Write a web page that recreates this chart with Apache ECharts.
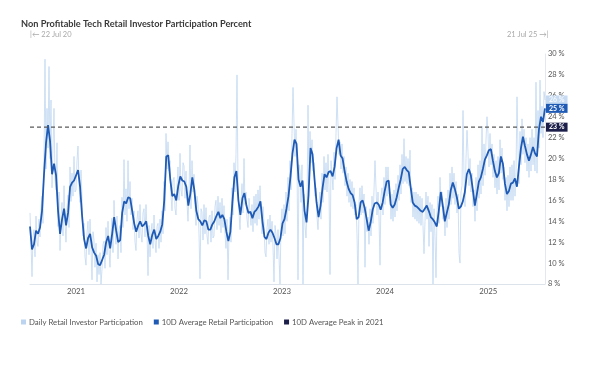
<!DOCTYPE html>
<html><head><meta charset="utf-8">
<script src="https://cdn.jsdelivr.net/npm/echarts@6/dist/echarts.min.js"></script>
<style>html,body{margin:0;padding:0;background:#fff}#c{width:602px;height:392px}</style>
</head><body><div id="c"></div>
<script>
// ---- data ----
const startDate = '22 Jul 20';
const endDate = '21 Jul 25';
const yearLabels = ['2021','2022','2023','2024','2025'];
const peak2021 = 23;
// 10-day average, roughly weekly samples from Jul 2020 to Jul 2025
const avgValues = [
13.5,11.3,11.8,13.1,12.8,13.4,15.0,18.5,21.5,23.2,
21.7,18.5,19.5,18.4,15.0,12.8,14.2,15.2,13.6,14.8,
17.3,17.7,17.9,18.4,18.9,17.3,14.5,12.3,11.4,12.4,
12.8,11.5,11.0,10.7,9.9,9.8,10.3,10.8,12.0,12.6,
11.4,12.8,14.4,13.1,12.0,12.2,14.8,15.9,15.7,16.3,
16.2,15.0,13.8,13.0,13.6,14.0,13.5,13.7,14.0,12.6,
11.8,12.7,13.2,12.3,12.6,13.0,13.7,16.0,20.2,20.3,
18.0,16.4,16.6,16.0,17.4,18.3,17.9,17.8,17.3,15.5,
16.6,18.2,17.0,15.0,14.2,14.0,13.6,14.1,14.0,13.2,
13.2,13.7,14.0,14.5,14.9,14.3,14.6,14.2,13.0,12.1,
13.0,15.8,18.2,18.8,16.0,14.6,16.2,16.7,15.5,14.8,
14.9,14.3,14.9,15.1,15.4,15.9,14.0,12.5,12.3,12.9,
13.2,12.9,12.4,11.8,11.8,12.4,13.8,14.2,15.2,16.4,
18.3,20.5,21.8,21.4,18.0,17.3,17.9,15.0,13.9,16.5,
21.0,20.4,18.0,15.8,14.4,15.5,17.2,18.5,18.2,18.7,
18.8,18.3,19.2,21.0,21.8,20.3,20.0,18.8,17.8,17.1,
16.7,16.5,15.8,14.2,14.4,15.8,16.0,15.3,14.2,13.1,
13.9,15.1,15.7,15.8,15.6,15.1,15.8,16.9,17.8,17.9,
15.6,15.3,15.6,16.3,17.2,18.0,19.0,19.2,18.9,18.7,
17.2,15.8,15.5,15.4,15.2,15.0,14.9,15.2,15.5,15.0,
14.4,14.2,13.9,13.5,15.0,16.8,15.5,14.0,14.8,15.6,
17.0,17.7,17.1,16.3,15.2,15.4,15.9,16.8,18.5,19.0,
18.4,17.0,15.5,16.6,17.8,18.2,19.0,19.9,20.3,20.8,
20.9,19.8,18.8,18.2,18.6,20.2,19.5,17.6,16.6,16.9,
17.6,17.7,18.1,17.3,19.2,21.0,22.1,21.2,20.4,19.8,
20.4,21.1,20.5,20.2,22.8,24.0,23.5,24.8
];
// daily participation, sampled about twice a week
const dailyValues = [
14.8,12.0,8.7,12.5,13.2,10.6,14.5,12.0,11.6,14.2,12.5,15.3,16.4,13.8,20.1,29.5,19.0,24.8,21.0,28.8,
20.0,25.6,17.2,21.0,24.8,18.0,17.0,21.5,13.5,16.8,11.2,14.4,15.8,12.6,17.4,13.9,12.0,15.2,16.5,13.4,
19.2,15.9,18.6,16.4,20.2,16.8,17.0,19.8,21.2,17.6,15.8,18.9,16.2,12.6,13.8,10.6,9.8,12.9,14.0,10.8,
14.2,11.5,8.4,13.0,12.2,9.6,11.9,8.2,10.8,8.9,11.0,8.0,9.4,11.8,12.1,9.5,13.4,10.8,14.0,11.3,
9.6,12.7,14.3,11.0,16.0,13.2,11.8,14.5,10.4,13.2,13.6,11.0,16.3,13.4,19.9,14.6,17.1,14.0,19.8,15.2,
17.8,14.6,16.2,13.2,15.0,12.0,11.2,14.2,15.0,12.4,15.6,12.8,12.0,14.8,15.2,12.5,15.6,13.0,8.8,13.6,
10.6,13.0,13.8,11.4,14.6,12.2,11.0,13.5,13.8,11.4,14.2,12.0,15.0,12.8,17.8,15.0,22.4,19.0,21.6,18.8,
19.8,16.5,15.0,17.9,18.2,15.2,14.6,17.4,19.2,16.0,20.5,17.0,16.4,19.6,19.3,16.2,18.8,15.8,14.0,16.8,
21.3,15.2,19.8,16.8,18.5,15.6,13.6,16.4,15.6,12.8,8.5,15.2,14.9,12.2,15.6,12.8,15.3,12.6,11.8,14.4,
14.6,12.0,15.0,12.4,12.6,15.4,16.0,13.2,16.4,13.6,15.8,12.9,16.2,13.4,15.5,12.8,11.4,14.2,8.4,12.8,
14.4,12.0,17.2,14.6,19.6,16.8,20.4,28.0,17.6,14.8,13.2,15.9,17.6,14.8,20.0,15.6,16.8,14.2,13.4,16.2,
16.2,13.6,15.6,13.0,16.4,13.8,16.6,13.6,17.0,14.2,17.4,14.8,12.8,15.4,13.8,11.0,10.6,13.4,14.2,11.8,
14.6,12.0,14.0,11.6,8.2,13.6,12.8,10.4,13.2,10.6,8.0,13.6,15.2,12.6,15.6,12.8,16.8,14.0,18.2,15.0,
19.8,17.0,22.4,26.8,23.4,20.2,22.8,19.8,8.4,19.4,18.8,15.8,19.4,8.0,16.6,13.6,12.4,15.2,25.1,17.6,
22.6,19.6,21.8,18.8,19.6,16.4,17.2,14.4,13.2,15.8,16.8,14.2,18.6,15.8,20.2,17.0,19.6,16.8,20.4,17.2,
8.9,19.8,19.8,17.0,20.6,18.0,22.4,25.9,23.2,20.4,21.6,19.0,21.4,18.6,20.2,17.4,19.2,16.4,18.6,15.8,
18.0,15.4,17.8,15.2,17.2,14.6,15.6,12.8,8.0,15.8,17.2,14.6,17.4,14.8,16.6,9.6,15.4,13.0,14.4,11.8,
15.2,12.6,16.4,13.8,17.0,19.8,17.2,14.6,16.8,14.4,9.8,16.4,17.2,14.6,18.2,15.6,19.2,16.4,19.2,16.6,
16.8,14.2,16.6,14.0,17.0,14.4,17.6,15.0,18.4,16.0,19.4,16.6,20.4,17.6,21.9,17.8,20.2,17.6,20.0,17.4,
20.8,15.8,17.2,14.4,16.8,14.2,16.8,14.0,16.6,13.8,16.4,13.6,16.2,13.6,10.9,14.0,16.8,14.2,16.4,11.6,
15.8,13.0,15.6,8.0,15.2,12.6,8.6,14.8,16.4,13.8,18.2,15.4,16.8,14.2,15.4,12.6,16.2,13.4,17.0,14.2,
18.6,15.6,19.2,16.2,18.6,15.6,17.8,14.8,16.6,10.9,10.0,16.8,17.4,24.6,18.4,15.4,20.0,22.7,20.6,17.4,
20.0,16.8,18.6,15.4,17.0,14.0,18.2,15.0,19.4,16.2,19.8,16.6,23.1,17.4,21.4,18.4,21.8,24.0,22.4,19.2,
22.4,19.4,21.4,18.2,20.4,17.2,19.8,16.6,20.2,17.0,21.8,18.6,21.0,18.0,19.2,16.0,18.2,15.0,18.4,15.4,
19.2,16.0,19.4,16.0,19.8,16.4,18.8,25.9,20.8,17.6,22.6,19.4,23.8,20.4,22.8,19.6,22.0,18.8,21.4,18.2,
22.0,18.8,22.8,19.4,22.0,18.8,27.3,18.6,24.6,21.0,27.5,22.4,25.0,22.0,26.4,25.6
];

// ---- chart ----
const t0 = Date.UTC(2020,6,22), t1 = Date.UTC(2025,6,21);
const spread = vals => vals.map((v,i)=>[t0 + i*(t1-t0)/(vals.length-1), v]);
const yearTicks = yearLabels.map(y => Date.UTC(+y,0,1));
const FONT = 'Lato';
const chart = echarts.init(document.getElementById('c'), null, {renderer:'canvas'});
chart.setOption({
  animation:false,
  textStyle:{fontFamily:FONT},
  title:{text:'Non Profitable Tech Retail Investor Participation Percent', left:16, top:15,
    textStyle:{fontSize:9.2, fontWeight:'bold', color:'#3a3a3a', fontFamily:FONT}},
  grid:{left:30, right:57, top:54, bottom:108},
  legend:{left:16, top:313, icon:'rect', itemWidth:5, itemHeight:5, itemGap:11,
    textStyle:{fontSize:7.8, color:'#555', fontFamily:FONT, padding:[0,0,0,-2]},
    data:['Daily Retail Investor Participation','10D Average Retail Participation','10D Average Peak in 2021']},
  xAxis:{type:'value', min:t0, max:t1, scale:true,
    axisLine:{lineStyle:{color:'#dde3ea', width:1}}, axisTick:{show:false}, splitLine:{show:false},
    axisLabel:{customValues:yearTicks, color:'#555', fontSize:7.8, margin:3,
      formatter:v=>String(new Date(v+43200000).getUTCFullYear())}},
  yAxis:{type:'value', position:'right', min:8, max:30, interval:2,
    axisLine:{show:true, lineStyle:{color:'#e4e8ee'}}, axisTick:{show:false}, splitLine:{show:false},
    axisLabel:{formatter:'{value} %', color:'#555', fontSize:7.5, margin:3}},
  graphic:[
    {type:'text', left:30, top:31, style:{text:'|\u2190 '+startDate, fill:'#aaa', fontSize:7.5, fontFamily:FONT}},
    {type:'text', left:507, top:31, style:{text:endDate+' \u2192|', fill:'#aaa', fontSize:7.5, fontFamily:FONT}}
  ],
  series:[
    {name:'Daily Retail Investor Participation', type:'line', data:spread(dailyValues), showSymbol:false, z:1,
      itemStyle:{color:'#bcd4ef'}, lineStyle:{color:'#c2d8f1', width:0.8},
      endLabel:{show:true, distance:1, formatter:p=>Math.round(p.value[1])+' %', color:'#f4f8fd', backgroundColor:'#c6dbf2',
        fontSize:7, fontWeight:'bold', padding:[1,3]}},
    {name:'10D Average Retail Participation', type:'line', data:spread(avgValues), showSymbol:false, z:3,
      itemStyle:{color:'#1f5bb5'}, lineStyle:{color:'#1f5bb5', width:1.8},
      endLabel:{show:true, distance:1, formatter:p=>Math.round(p.value[1])+' %', color:'#fff', backgroundColor:'#1f5bb5',
        fontSize:7, fontWeight:'bold', padding:[1,3]}},
    {name:'10D Average Peak in 2021', type:'line', data:[[t0,peak2021],[t1,peak2021]], showSymbol:false, z:4,
      itemStyle:{color:'#1c1f4a'}, lineStyle:{color:'#5a5a5a', width:1.3, type:[4,3]},
      endLabel:{show:true, distance:1, formatter:p=>p.value[1]+' %', color:'#fff', backgroundColor:'#1c1f4a',
        fontSize:7, fontWeight:'bold', padding:[1,3]}}
  ]
});
</script></body></html>
